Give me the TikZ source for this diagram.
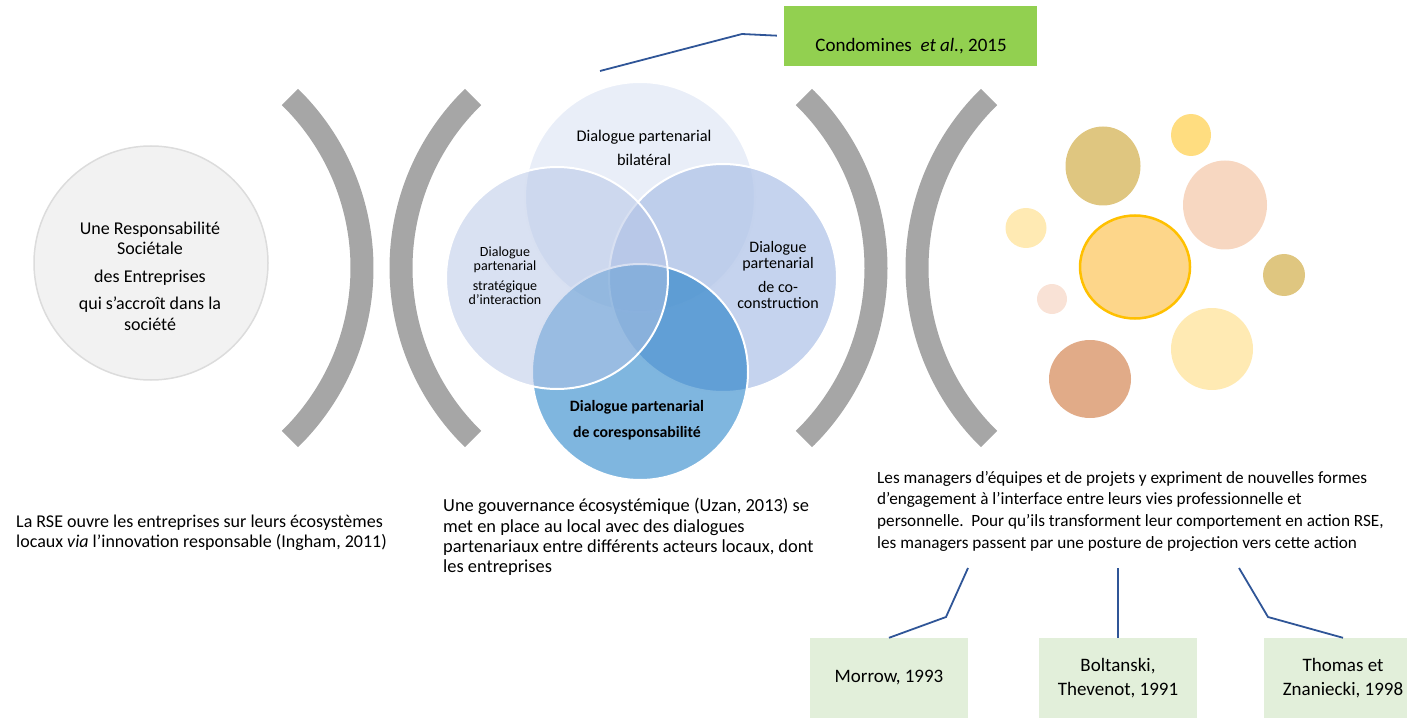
\documentclass[tikz,border=0pt]{standalone}
\usepackage{fontspec}
\setmainfont{Carlito}
\usetikzlibrary{shapes.geometric}

\definecolor{arcgrey}{HTML}{A6A6A6}
\definecolor{rseface}{HTML}{F2F2F2}
\definecolor{rseline}{HTML}{DCDCDC}
\definecolor{vtop}{HTML}{D3DDF1}
\definecolor{vright}{HTML}{AEC2E7}
\definecolor{vbottom}{HTML}{006DBF}
\definecolor{vleft}{HTML}{B3C3E5}
\definecolor{condgreen}{HTML}{92D050}
\definecolor{refgreen}{HTML}{E2EFDA}
\definecolor{calloutblue}{HTML}{2F5597}
\definecolor{olive}{HTML}{DFC680}
\definecolor{sun}{HTML}{FFDD80}
\definecolor{blush}{HTML}{F7D7C1}
\definecolor{paleblush}{HTML}{F9E2D6}
\definecolor{cream}{HTML}{FFEAB3}
\definecolor{clay}{HTML}{E1AB88}
\definecolor{core}{HTML}{FDD68A}
\definecolor{coreline}{HTML}{FFC000}

\tikzset{
  arcbar/.style={draw=arcgrey, line width=23pt},
  venn/.style={circle, draw=white, line width=2pt, fill opacity=0.5, inner sep=0pt},
  vlabel/.style={align=center, inner sep=0pt},
  bubble/.style={ellipse, inner sep=0pt},
  refbox/.style={fill=refgreen, minimum width=158pt, minimum height=80pt, inner sep=0pt, align=center,
    font=\fontsize{19}{24}\selectfont},
  callout/.style={draw=calloutblue, line width=1.8pt},
  body/.style={align=left, anchor=west, inner sep=0pt},
}

\begin{document}
\begin{tikzpicture}[x=1pt, y=-1pt]
\useasboundingbox (0,0) rectangle (1407,719);

% RSE circle
\node[circle, fill=rseface, draw=rseline, line width=1.5pt, minimum size=234pt, inner sep=0pt] (rse) at (151,263) {};
\node[vlabel, font=\fontsize{18}{20.5}\selectfont] (rsetext) at (150,276)
  {Une Responsabilité\\Sociétale\\[7pt]des Entreprises\\[7pt]qui s’accroît dans la\\société};

% brackets
\draw[arcbar] ([shift={(-45.7:239)}]123,268) arc[start angle=-45.7, end angle=45.7, radius=239];
\draw[arcbar] ([shift={(134.3:239)}]640,268) arc[start angle=134.3, end angle=225.7, radius=239];
\draw[arcbar] ([shift={(-45.7:239)}]637,268) arc[start angle=-45.7, end angle=45.7, radius=239];
\draw[arcbar] ([shift={(134.3:239)}]1156,268) arc[start angle=134.3, end angle=225.7, radius=239];

% venn
\node[venn, fill=vtop, minimum size=230pt] (vtop) at (640,197) {};
\node[venn, fill=vright, fill opacity=0.72, minimum size=228pt] (vright) at (723,278) {};
\node[venn, fill=vbottom, minimum size=216pt] (vbottom) at (640,372) {};
\node[venn, fill=vleft, minimum size=222pt] (vleft) at (557,278) {};

\node[vlabel, font=\fontsize{16.3}{24}\selectfont] (ltop) at (644,148) {Dialogue partenarial\\bilatéral};
\node[vlabel, font=\fontsize{14}{14}\selectfont] (lleft) at (505,276) {Dialogue\\partenarial\\[6pt]stratégique\\d’interaction};
\node[vlabel, font=\fontsize{16}{16}\selectfont] (lright) at (778,275) {Dialogue\\partenarial\\[8pt]de co-\\construction};
\node[vlabel, font=\bfseries\fontsize{15.8}{26}\selectfont] (lbottom) at (637,420) {Dialogue partenarial\\de coresponsabilité};

% reference box top
\node[fill=condgreen, minimum width=253pt, minimum height=60pt, inner sep=0pt] (cond) at (910.5,36) {};
\node[inner sep=0pt, font=\fontsize{19}{20}\selectfont] (condtext) at (911,46) {Condomines \ \textit{et al.}, 2015};
\coordinate (venntip) at (600,71);
\draw[callout, shorten >=7pt] (venntip) -- (742,34) -- (cond.west);

% bubbles
\node[bubble, fill=olive, minimum width=75pt, minimum height=79pt] (b1) at (1103,166) {};
\node[bubble, fill=sun, minimum width=40pt, minimum height=42pt] (b2) at (1191,135) {};
\node[bubble, fill=blush, minimum width=84pt, minimum height=89pt] (b3) at (1225,205) {};
\node[bubble, fill=cream, minimum width=41pt, minimum height=40pt] (b4) at (1026,228) {};
\node[bubble, fill=core, draw=coreline, line width=2.5pt, minimum width=110pt, minimum height=103pt] (b5) at (1135,267) {};
\node[bubble, fill=olive, minimum width=42pt, minimum height=42pt] (b6) at (1284,275) {};
\node[bubble, fill=paleblush, minimum width=30pt, minimum height=30pt] (b7) at (1052,299) {};
\node[bubble, fill=cream, minimum width=82pt, minimum height=82pt] (b8) at (1212,349) {};
\node[bubble, fill=clay, minimum width=82pt, minimum height=78pt] (b9) at (1090,379) {};

% texts
\node[body, font=\fontsize{18}{20.5}\selectfont] (txtrse) at (16,533)
  {La RSE ouvre les entreprises sur leurs écosystèmes\\locaux \textit{via} l’innovation responsable (Ingham, 2011)};
\node[body, font=\fontsize{18.4}{20.2}\selectfont] (txtgov) at (443,537)
  {Une gouvernance écosystémique (Uzan, 2013) se\\met en place au local avec des dialogues\\partenariaux entre différents acteurs locaux, dont\\les entreprises};
\node[body, font=\fontsize{17.2}{21.7}\selectfont] (txtman) at (877,511)
  {Les managers d’équipes et de projets y expriment de nouvelles formes\\d’engagement à l’interface entre leurs vies professionnelle et\\personnelle.\ \ Pour qu’ils transforment leur comportement en action RSE,\\les managers passent par une posture de projection vers cette action};

% reference boxes bottom
\node[refbox] (morrow) at (889,678) {Morrow, 1993};
\node[refbox] (bolt) at (1118,678) {Boltanski,\\Thevenot, 1991};
\node[refbox] (thomas) at (1343,678) {Thomas et\\Znaniecki, 1998};

\coordinate (tipa) at (968,568);
\coordinate (tipb) at (1118,568);
\coordinate (tipc) at (1239,568);
\draw[callout] (tipa) -- (946,617) -- (morrow.north);
\draw[callout] (tipb) -- (bolt.north);
\draw[callout] (tipc) -- (1268,617) -- (thomas.north);
\end{tikzpicture}
\end{document}
